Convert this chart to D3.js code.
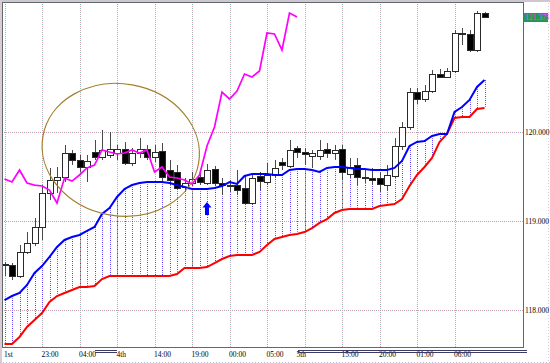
<!DOCTYPE html>
<html>
<head>
<meta charset="utf-8">
<script src="https://cdn.jsdelivr.net/npm/d3@7"></script>
<style>
    html, body { margin: 0; padding: 0; background: #fff; }
    svg { display: block; }
    .axis text { font-family: "Liberation Serif", "DejaVu Serif", serif; font-size: 7.5px; fill: #000; }
    .axis path.domain { display: none; }
</style>
</head>
<body>
<div id="chart"></div>
<script>
// hourly candles, bar 0 .. 64
var opens = [118.517, 118.506, 118.382, 118.652, 118.753, 118.933, 119.315, 119.461, 119.494, 119.764,
    119.685, 119.607, 119.775, 119.719, 119.742, 119.764, 119.809, 119.652, 119.764, 119.809,
    119.719, 119.787, 119.573, 119.551, 119.382, 119.427, 119.494, 119.427, 119.584, 119.427,
    119.404, 119.404, 119.371, 119.202, 119.506, 119.438, 119.517, 119.663, 119.618, 119.820,
    119.775, 119.730, 119.730, 119.809, 119.764, 119.809, 119.528, 119.629, 119.494, 119.483,
    119.483, 119.404, 119.506, 119.843, 120.056, 120.449, 120.371, 120.461, 120.652, 120.618,
    120.685, 121.112, 121.101, 120.921, 121.337];
var highs = [118.539, 118.528, 118.730, 118.876, 119.034, 119.404, 119.596, 119.607, 119.854, 119.798,
    119.742, 119.742, 119.910, 120.022, 120.000, 119.854, 119.888, 119.820, 119.933, 119.854,
    119.854, 119.876, 119.685, 119.629, 119.483, 119.551, 119.551, 119.640, 119.618, 119.483,
    119.461, 119.573, 119.506, 119.517, 119.551, 119.652, 119.685, 119.708, 119.910, 119.843,
    119.820, 119.798, 119.910, 119.876, 119.854, 119.854, 119.708, 119.708, 119.573, 119.596,
    119.551, 119.629, 119.933, 120.112, 120.494, 120.494, 120.528, 120.697, 120.708, 120.719,
    121.146, 121.169, 121.146, 121.360, 121.348];
var lows = [118.382, 118.337, 118.360, 118.629, 118.719, 118.787, 119.236, 119.315, 119.438, 119.629,
    119.551, 119.438, 119.685, 119.685, 119.708, 119.685, 119.629, 119.618, 119.708, 119.685,
    119.663, 119.438, 119.404, 119.348, 119.326, 119.393, 119.404, 119.404, 119.393, 119.292,
    119.326, 119.292, 119.180, 119.180, 119.348, 119.404, 119.483, 119.573, 119.596, 119.708,
    119.629, 119.596, 119.685, 119.708, 119.685, 119.461, 119.483, 119.404, 119.427, 119.404,
    119.326, 119.348, 119.483, 119.798, 120.022, 120.315, 120.337, 120.438, 120.607, 120.607,
    120.663, 120.978, 120.899, 120.899, 121.281];
var closes = [118.506, 118.382, 118.652, 118.753, 118.933, 119.315, 119.461, 119.494, 119.764, 119.685,
    119.607, 119.674, 119.719, 119.798, 119.809, 119.809, 119.652, 119.764, 119.809, 119.719,
    119.775, 119.494, 119.461, 119.371, 119.427, 119.472, 119.438, 119.573, 119.427, 119.404,
    119.393, 119.348, 119.202, 119.483, 119.449, 119.517, 119.596, 119.629, 119.798, 119.775,
    119.753, 119.764, 119.798, 119.764, 119.798, 119.551, 119.607, 119.494, 119.483, 119.461,
    119.416, 119.517, 119.843, 120.056, 120.449, 120.371, 120.461, 120.652, 120.618, 120.685,
    121.112, 121.101, 120.921, 121.337, 121.292];

// cloud lines (blue = span A, red = span B)
var spanA = [118.112, 118.157, 118.191, 118.281, 118.416, 118.494, 118.596, 118.708, 118.787, 118.820,
    118.843, 118.888, 118.933, 119.079, 119.146, 119.270, 119.360, 119.404, 119.427, 119.438,
    119.438, 119.438, 119.427, 119.404, 119.382, 119.360, 119.360, 119.360, 119.371, 119.393,
    119.438, 119.416, 119.506, 119.528, 119.528, 119.528, 119.517, 119.517, 119.573, 119.584,
    119.584, 119.573, 119.551, 119.596, 119.607, 119.607, 119.596, 119.584, 119.584, 119.573,
    119.573, 119.573, 119.596, 119.674, 119.843, 119.888, 119.899, 119.955, 119.978, 119.978,
    120.225, 120.281, 120.360, 120.506, 120.584];
var spanB = [117.618, 117.618, 117.697, 117.809, 117.888, 117.966, 118.090, 118.157, 118.191, 118.225,
    118.258, 118.258, 118.270, 118.348, 118.382, 118.382, 118.382, 118.382, 118.382, 118.382,
    118.382, 118.382, 118.382, 118.404, 118.472, 118.472, 118.472, 118.483, 118.528, 118.573,
    118.607, 118.618, 118.618, 118.618, 118.652, 118.730, 118.798, 118.820, 118.843, 118.854,
    118.876, 118.921, 118.978, 119.022, 119.090, 119.124, 119.135, 119.135, 119.135, 119.135,
    119.169, 119.180, 119.191, 119.247, 119.393, 119.517, 119.607, 119.708, 119.888, 119.978,
    120.157, 120.169, 120.169, 120.258, 120.270];

var chikouShift = 25;   // lagging line = close drawn 25 bars back

var gridBars = [0, 5, 10, 15, 20, 25, 30, 35, 40, 45, 50, 55, 60];
var timeTickBars = [0, 5, 10, 15, 20, 25, 30, 35, 39, 45, 50, 55, 60];
var timeTickLabels = ['1st', '23:00', '04:00', '4th', '14:00', '19:00', '00:00', '05:00', '5th', '15:00', '20:00', '01:00', '06:00'];
var priceTicks = [118, 119, 120];
var lastPrice = 121.375;

// canvas
var svgWidth = 550, svgHeight = 363;
var frame = { left: 2, top: 2, right: 523, bottom: 347 };

var svg = d3.select('#chart').append('svg')
    .attr('width', svgWidth)
    .attr('height', svgHeight);

var xScale = d3.scaleLinear().domain([0, closes.length - 1]).range([4.5, 484.5]);
var yScale = d3.scaleLinear().domain([118, 121]).range([310, 43]);

svg.append('defs').append('clipPath').attr('id', 'plotClip')
    .append('rect')
    .attr('x', frame.left).attr('y', frame.top)
    .attr('width', frame.right - frame.left).attr('height', frame.bottom - frame.top);

// outer border of the picture
svg.append('rect').attr('x', 0).attr('y', 0).attr('width', svgWidth).attr('height', 2).attr('fill', '#cfc6d2');
svg.append('rect').attr('x', 0).attr('y', 0).attr('width', 2).attr('height', svgHeight).attr('fill', '#dccbd4');

// two tone dotted line, like the terminal grid
function dotted(g, x1, y1, x2, y2, c1, c2) {
    g.append('line').attr('x1', x1).attr('y1', y1).attr('x2', x2).attr('y2', y2)
        .attr('stroke', c1).attr('stroke-dasharray', '1,3');
    g.append('line').attr('x1', x1).attr('y1', y1).attr('x2', x2).attr('y2', y2)
        .attr('stroke', c2).attr('stroke-dasharray', '1,3').attr('stroke-dashoffset', 2);
}

svg.append('line').attr('x1', 548.5).attr('y1', 0).attr('x2', 548.5).attr('y2', svgHeight)
    .attr('stroke', '#d8c8d8').attr('stroke-dasharray', '1,2');
svg.append('line').attr('x1', 0).attr('y1', 362.5).attr('x2', svgWidth).attr('y2', 362.5)
    .attr('stroke', '#c8b8d8').attr('stroke-dasharray', '1,2');

// grid
var gridLayer = svg.append('g').attr('shape-rendering', 'crispEdges');
gridBars.forEach(function (b) {
    var x = Math.round(xScale(b)) + 0.5;
    dotted(gridLayer, x, frame.top, x, frame.bottom, '#e39aa8', '#86bcbc');
});
priceTicks.forEach(function (p) {
    var y = Math.round(yScale(p)) + 0.5;
    dotted(gridLayer, frame.left, y, frame.right, y, '#e39aa8', '#9aa8b8');
});

var plot = svg.append('g').attr('clip-path', 'url(#plotClip)');

// cloud hatching between the two spans
var hatch = plot.append('g').attr('shape-rendering', 'crispEdges');
spanA.forEach(function (a, i) {
    var b = spanB[i];
    if (a <= b) { return; }
    var x = Math.round(xScale(i)) + 0.5;
    dotted(hatch, x, yScale(a), x, yScale(b), '#3c3cff', '#a070ff');
});

// candles
var candles = plot.append('g').selectAll('g')
    .data(closes)
    .enter()
    .append('g');

candles.append('line')
    .attr('x1', function (d, i) { return Math.round(xScale(i)) + 0.5; })
    .attr('x2', function (d, i) { return Math.round(xScale(i)) + 0.5; })
    .attr('y1', function (d, i) { return yScale(highs[i]); })
    .attr('y2', function (d, i) { return yScale(lows[i]); })
    .attr('stroke', '#4a4a4a')
    .attr('shape-rendering', 'crispEdges');

candles.append('rect')
    .attr('x', function (d, i) { return Math.round(xScale(i)) - 2.5; })
    .attr('y', function (d, i) { return Math.round(Math.min(yScale(opens[i]), yScale(d))) + 0.5; })
    .attr('width', 6)
    .attr('height', function (d, i) { return Math.max(1, Math.round(Math.abs(yScale(opens[i]) - yScale(d)))); })
    .attr('fill', function (d, i) { return d < opens[i] ? '#000' : '#fff'; })
    .attr('stroke', '#2a2a2a')
    .attr('shape-rendering', 'crispEdges');

// span lines
var lineGen = d3.line()
    .x(function (d, i) { return xScale(i); })
    .y(function (d) { return yScale(d); });

plot.append('path').datum(spanB)
    .attr('d', lineGen).attr('fill', 'none').attr('stroke', '#ff0000').attr('stroke-width', 2);
plot.append('path').datum(spanA)
    .attr('d', lineGen).attr('fill', 'none').attr('stroke', '#0000ff').attr('stroke-width', 2);

// lagging line
plot.append('path').datum(closes.slice(chikouShift))
    .attr('d', lineGen).attr('fill', 'none').attr('stroke', '#ff00ff').attr('stroke-width', 1.7);

// hand drawn marks
plot.append('ellipse')
    .attr('cx', 0).attr('cy', 0).attr('rx', 79).attr('ry', 66)
    .attr('transform', 'translate(' + [xScale(15.5), yScale(119.8)] + ') rotate(10)')
    .attr('fill', 'none').attr('stroke', '#a0802a').attr('stroke-width', 1.2);

var ax = xScale(27), ay = yScale(119.213);
plot.append('path')
    .attr('d', 'M' + ax + ',' + ay + 'l4.5,5.5h-2.5v7.5h-4v-7.5h-2.5z')
    .attr('fill', '#0000ff');

// frame
svg.append('rect')
    .attr('x', frame.left + 0.5).attr('y', frame.top + 0.5)
    .attr('width', frame.right - frame.left).attr('height', frame.bottom - frame.top)
    .attr('fill', 'none').attr('stroke', '#5f6a6a')
    .attr('shape-rendering', 'crispEdges');

// time axis
var axisX = svg.append('g')
    .attr('class', 'axis')
    .attr('transform', 'translate(0,' + frame.bottom + ')')
    .call(d3.axisBottom(xScale)
        .tickValues(timeTickBars)
        .tickFormat(function (d, i) { return timeTickLabels[i]; })
        .tickSize(0)
        .tickPadding(5));
axisX.selectAll('text').attr('text-anchor', 'start').attr('dx', -1);

// the double rules under the time axis
[[12, 15], [39, 70.5]].forEach(function (r) {
    var x1 = xScale(r[0]) + 0.5, x2 = Math.min(xScale(r[1]), 527);
    [350.5, 352.5].forEach(function (y) {
        svg.append('line').attr('x1', x1).attr('x2', x2).attr('y1', y).attr('y2', y)
            .attr('stroke', '#3c3c64').attr('shape-rendering', 'crispEdges');
    });
});

// price axis
svg.append('g')
    .attr('class', 'axis')
    .attr('transform', 'translate(' + frame.right + ',0)')
    .call(d3.axisRight(yScale)
        .tickValues(priceTicks)
        .tickFormat(d3.format('.3f'))
        .tickSize(0)
        .tickPadding(2));

// last price tag
var tagY = Math.round(yScale(closes[closes.length - 1]));
svg.append('rect')
    .attr('x', frame.right + 1).attr('y', tagY - 4)
    .attr('width', 24).attr('height', 9)
    .attr('fill', '#1f9a4e');
svg.append('text')
    .attr('x', frame.right + 2).attr('y', tagY + 3)
    .attr('font-family', '"Liberation Serif", serif').attr('font-size', '7.5px')
    .attr('fill', '#ff40ff')
    .text(lastPrice.toFixed(3));
</script>
</body>
</html>
